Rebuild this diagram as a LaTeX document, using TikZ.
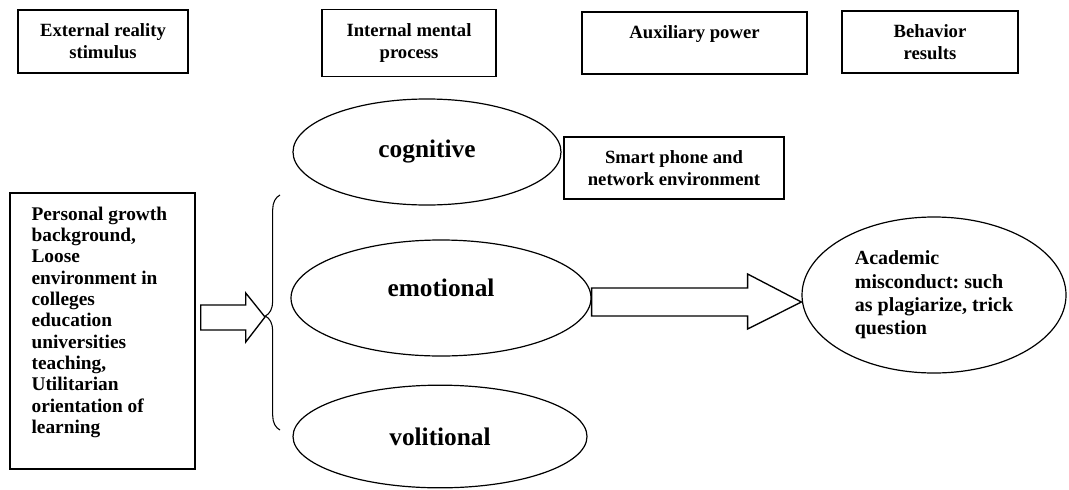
\documentclass[tikz,border=0pt]{standalone}
\usepackage{fontspec}
\setmainfont{Liberation Serif}
\frenchspacing
\usetikzlibrary{shapes,positioning,calc,decorations.pathreplacing}

\begin{document}
\begin{tikzpicture}[x=0.75pt, y=-0.75pt, line width=0.9pt,
    box/.style={draw, rectangle, line width=1.1pt, align=center, font=\bfseries\fontsize{14}{16.5}\selectfont},
    oval/.style={draw, ellipse, inner sep=0pt, font=\bfseries\fontsize{19}{22}\selectfont},
    hollow/.style={draw, line width=1pt, line join=miter}]
    \useasboundingbox (0,0) rectangle (1069,489);

    % Headings
    \node[box, minimum width=127.5pt, minimum height=47.25pt] (ext) at (103,41.5) {External reality\\stimulus};
    \node[box, minimum width=130.5pt, minimum height=50.25pt] (intl) at (409,43) {Internal mental\\process};
    \node[box, minimum width=168.75pt, minimum height=46.5pt] (aux) at (694.5,43) {Auxiliary power\\ \mbox{}};
    \node[box, minimum width=132pt, minimum height=46.5pt] (beh) at (930,42) {Behavior\\results};

    % Stimulus
    \node[box, minimum width=138.75pt, minimum height=207pt] (bg) at (102.5,331) {};
    \node[anchor=north west, inner sep=0pt, align=left, font=\bfseries\fontsize{14.5}{16}\selectfont] (bgtxt) at (31,206)
        {Personal growth\\background,\\Loose\\environment in\\colleges\\education\\universities\\teaching,\\Utilitarian\\orientation of\\learning};

    % Mental process
    \node[oval, minimum width=201pt, minimum height=79.5pt] (cog) at (427,152) {cognitive};
    \node[oval, minimum width=225pt, minimum height=87pt, text height=13pt, text depth=16pt] (emo) at (441,298) {emotional};
    \node[oval, minimum width=220.5pt, minimum height=77pt] (vol) at (440,436.5) {volitional};
    \node[box, minimum width=165pt, minimum height=46.5pt] (phone) at (674,168) {Smart phone and\\network environment};

    % Result
    \node[oval, minimum width=198pt, minimum height=117pt, align=left,
          font=\bfseries\fontsize{15}{17.5}\selectfont] (res) at (934,295)
        {Academic\\misconduct: such\\as plagiarize, trick\\question};

    % Brace and arrows
    \coordinate (brtop) at (280,195);
    \coordinate (brbot) at (280,430);
    \coordinate (brtip) at (265,317);
    \draw[decorate, decoration={brace, amplitude=11pt, aspect=0.485}, line width=0.8pt] (brbot) -- (brtop);

    \draw[hollow] ($(bg.east)+(5,-26)$) -- ++(45,0) -- ++(0,-12) -- (brtip)
        -- ($(bg.east)+(50,11)$) -- ++(0,-12) -- ($(bg.east)+(5,-1)$) -- cycle;
    \draw[hollow] ($(emo.east)+(0,-10)$) -- ++(156,0) -- ++(0,-14) -- ($(res.west)+(0,7)$)
        -- ($(emo.east)+(156,31)$) -- ++(0,-13) -- ($(emo.east)+(0,18)$) -- cycle;
\end{tikzpicture}
\end{document}
